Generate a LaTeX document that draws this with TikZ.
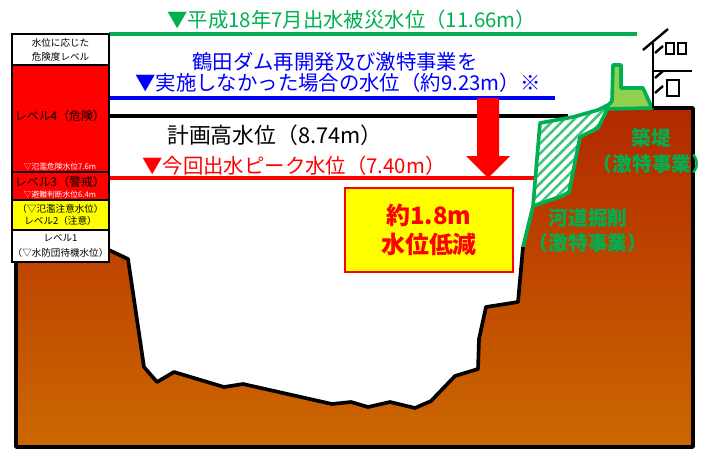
\documentclass[tikz,border=0pt]{standalone}
\usepackage{fontspec}
\setmainfont{Noto Sans CJK JP}
\usepackage{tikz}
\usetikzlibrary{positioning}
\usetikzlibrary{patterns.meta}

\definecolor{greenlv}{RGB}{0,176,80}
\definecolor{bluelv}{RGB}{0,0,255}
\definecolor{redlv}{RGB}{255,0,0}
\definecolor{yellowlv}{RGB}{255,255,0}
\definecolor{dikefill}{RGB}{146,208,80}
\definecolor{groundtop}{RGB}{178,40,0}
\definecolor{groundbot}{RGB}{204,104,0}

\tikzset{
    lvlcell/.style={ % one row of the danger level table
        draw, line width=2pt,
        minimum width=2.425cm,
        inner sep=0pt, outer sep=0pt
    },
    lvltext/.style={font=\fontsize{8.5}{9}\selectfont, inner sep=0pt},
    lvlsmall/.style={font=\fontsize{5.5}{6.5}\selectfont, text=white, inner sep=0pt},
    lvlnote/.style={font=\fontsize{6.8}{8.5}\selectfont, align=center, inner sep=0pt},
    level/.style={line width=2.3pt}, % water level lines
    caption/.style={ % texts along the level lines
        font=\fontsize{14.5}{17}\selectfont,
        anchor=west, inner sep=0pt
    },
    worklabel/.style={font=\bfseries\fontsize{14}{16}\selectfont, text=greenlv, inner sep=0pt},
    ground/.style={line width=2.6pt, line join=round},
    works/.style={draw=greenlv, line width=2.6pt, line join=round},
    house/.style={line width=1.7pt}
}

\begin{document}
\begin{tikzpicture}[x=0.025cm, y=-0.025cm]
    \useasboundingbox (0,0) rectangle (721,455);

    % river cross section
    \shade[top color=groundtop, bottom color=groundbot]
        (16,256) -- (109,250) -- (128,259) -- (144,367) -- (157,382) -- (174,372)
        -- (224,387) -- (243,384) -- (332,404) -- (351,402) -- (368,407)
        -- (390,402) -- (415,408) -- (431,401) -- (455,376) -- (478,369)
        -- (479,339) -- (486,307) -- (518,302) -- (523,247) -- (533,206)
        -- (562,196) -- (569,192) -- (580,137) -- (598,128) -- (610,107)
        -- (693,108) -- (693,447) -- (16,447) -- cycle;
    \draw[ground] (16,256) -- (16,447) -- (693,447) -- (693,108) -- (652,108);
    \draw[ground] (109,250) -- (128,259) -- (144,367) -- (157,382) -- (174,372)
        -- (224,387) -- (243,384) -- (332,404) -- (351,402) -- (368,407)
        -- (390,402) -- (415,408) -- (431,401) -- (455,376) -- (478,369)
        -- (479,339) -- (486,307) -- (518,302) -- (523,247);

    % water levels
    \coordinate (hw0) at (109,34);  \coordinate (hw1) at (637,34);
    \coordinate (nw0) at (109,98);  \coordinate (nw1) at (555,98);
    \coordinate (pw0) at (109,116); \coordinate (pw1) at (568,116);
    \coordinate (cw0) at (109,178); \coordinate (cw1) at (536,178);
    \draw[level, draw=greenlv, line width=3pt] (hw0) -- (hw1);
    \draw[level, draw=bluelv] (nw0) -- (nw1);
    \draw[level] (pw0) -- (pw1);
    \draw[level, draw=redlv] (cw0) -- (cw1);

    % channel excavation
    \fill[white] (540,123) -- (573,117) -- (598,110) -- (610,104) -- (598,128)
        -- (580,137) -- (569,192) -- (562,196) -- (533,206) -- cycle;
    \path[pattern={Lines[angle=45,distance=5pt,line width=1.8pt]}, pattern color=greenlv!75]
        (540,123) -- (573,117) -- (598,110) -- (610,104) -- (598,128)
        -- (580,137) -- (569,192) -- (562,196) -- (533,206) -- cycle;
    \draw[works] (540,123) -- (573,117) -- (598,110) -- (610,104) -- (598,128)
        -- (580,137) -- (569,192) -- (562,196) -- (533,206) -- cycle;
    \draw[works] (533,206) -- (523,247);

    % levee with parapet
    \draw[works, fill=dikefill] (605,109) -- (612,101) -- (613,65) -- (621,65)
        -- (621,88) -- (643,88) -- (652,108) -- cycle;

    % house
    \draw[house] (643,50) -- (668,29);
    \draw[house] (653,43) -- (653,108);
    \draw[house] (655,53) -- (663,46);
    \draw[house] (655,78) -- (663,71);
    \draw[house] (655,93) -- (663,86);
    \draw[house] (653,71) -- (692,71);
    \draw[house] (666,43) rectangle (674,54);
    \draw[house] (678,43) rectangle (686,54);
    \draw[house] (667,80) rectangle (679,96);

    % drop of the water level
    \fill[redlv] (477,98) -- (499,98) -- (499,156) -- (510,156) -- (488,178)
        -- (466,156) -- (477,156) -- cycle;

    % danger level table
    \node[lvlcell, fill=white, minimum height=0.775cm, anchor=north west,
          lvlnote, font=\fontsize{6.8}{10}\selectfont] (head) at (12,34) {水位に応じた\\危険度レベル};
    \node[lvlcell, fill=redlv, minimum height=2.675cm, below=0pt of head] (lv4) {};
    \node[lvlcell, fill=redlv, minimum height=0.7cm, below=0pt of lv4] (lv3) {};
    \node[lvlcell, fill=yellowlv, minimum height=0.75cm, below=0pt of lv3] (lv2) {};
    \node[lvlcell, fill=white, minimum height=0.8cm, below=0pt of lv2] (lv1) {};

    \node[lvltext] (lv4a) at (60,116) {レベル4（危険）};
    \node[lvlsmall] (lv4b) at (60,167) {▽氾濫危険水位7.6m};
    \node[lvltext] (lv3a) at (60,182) {レベル3（警戒）};
    \node[lvlsmall] (lv3b) at (60,195) {▽避難判断水位6.4m};
    \node[lvlnote] (lv2a) at (lv2) {（▽氾濫注意水位）\\レベル2（注意）};
    \node[lvlnote, font=\fontsize{6.8}{10.5}\selectfont] (lv1a) at (lv1) {レベル1\\（▽水防団待機水位）};

    % level captions
    \node[caption, text=greenlv] (hwt) at (167,20) {▼平成18年7月出水被災水位（11.66m）};
    \node[caption, text=bluelv] (nwt1) at (192,62) {鶴田ダム再開発及び激特事業を};
    \node[caption, text=bluelv] (nwt2) at (135,83) {▼実施しなかった場合の水位（約9.23m）※};
    \node[caption, font=\fontsize{15.5}{18}\selectfont] (pwt) at (167,135) {計画高水位（8.74m）};
    \node[caption, text=redlv] (cwt) at (142,166) {▼今回出水ピーク水位（7.40m）};

    % works
    \node[worklabel] (dike1) at (651,138) {築堤};
    \node[worklabel] (dike2) at (652,164) {（激特事業）};
    \node[worklabel] (cut1) at (588,218) {河道掘削};
    \node[worklabel] (cut2) at (588,243) {（激特事業）};

    % result box
    \node[draw=redlv, line width=1.5pt, fill=yellowlv, minimum width=4.2cm, minimum height=2.1cm,
          align=center, text=redlv, font=\bfseries\fontsize{17}{21}\selectfont] (drop) at (429,230)
          {約1.8m\\水位低減};
\end{tikzpicture}
\end{document}
